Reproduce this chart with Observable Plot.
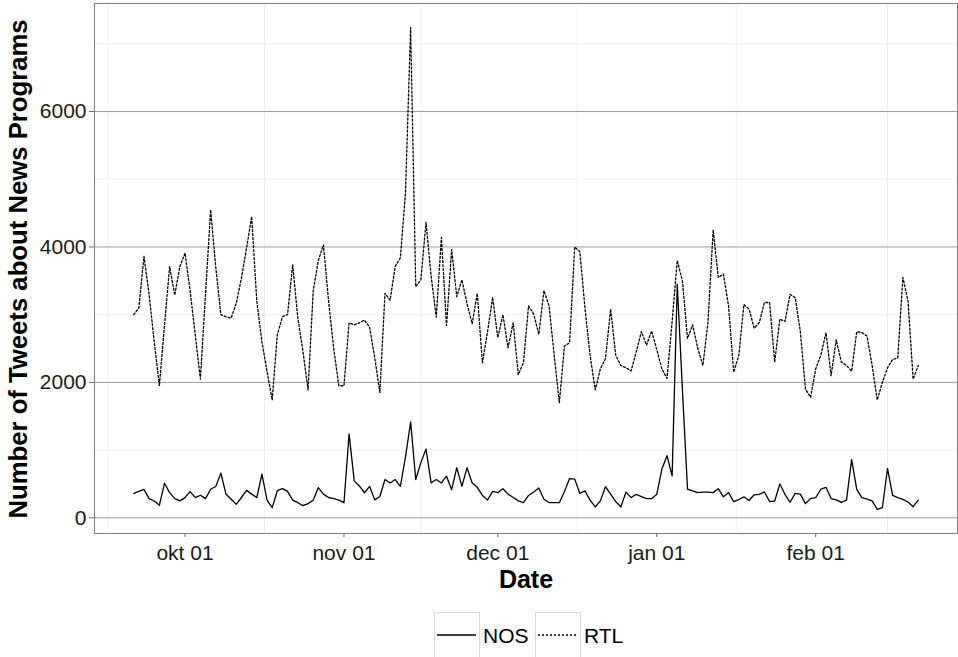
<!DOCTYPE html>
<html><head><meta charset="utf-8">
<script src="https://cdn.jsdelivr.net/npm/d3@7"></script>
<script src="https://cdn.jsdelivr.net/npm/@observablehq/plot@0.6"></script>
<style>
body{margin:0;background:#fff;font-family:"Liberation Sans",Arial,sans-serif;}
svg{display:block;}
</style></head><body><div id="chart"></div>
<script>
// first day of the daily series (one value per day)
const startDate = "2013-09-21";
const seriesNames = ["NOS", "RTL"];
const nos = [
  362,390,420,283,248,184,511,372,283,250,
  298,387,298,333,283,422,462,660,347,273,
  199,300,405,350,298,645,260,149,400,430,
  390,260,223,180,210,260,447,350,300,283,
  260,223,1240,546,470,370,465,265,315,565,
  515,565,465,900,1415,565,815,1015,515,565,
  515,615,415,740,465,740,515,450,330,263,
  390,372,430,350,300,250,225,330,382,440,
  273,225,223,223,390,580,571,360,397,260,
  160,250,460,350,240,160,380,298,347,313,
  283,283,347,720,918,620,3450,1900,422,397,
  372,380,380,372,430,310,372,240,270,310,
  255,340,347,382,240,248,500,347,230,360,
  350,210,283,298,422,450,285,265,228,260,
  860,420,298,275,250,124,149,730,330,298,
  273,233,164,260
];
const rtl = [
  3000,3100,3860,3300,2600,1950,2840,3710,3290,3710,
  3910,3350,2700,2050,3300,4550,3700,3000,2970,2950,
  3170,3540,3980,4450,3200,2600,2160,1740,2700,2970,
  3000,3740,2950,2460,1890,3350,3800,4030,3200,2500,
  1950,1950,2880,2850,2880,2920,2815,2365,1850,3315,
  3215,3715,3840,4800,7240,3415,3515,4365,3565,2965,
  4140,2840,3965,3265,3515,3165,2865,3315,2290,2750,
  3255,2660,3000,2510,2880,2115,2290,3130,3010,2710,
  3355,3130,2400,1700,2535,2585,4000,3930,3100,2400,
  1890,2200,2350,3080,2400,2250,2215,2170,2450,2750,
  2550,2760,2485,2200,2060,2900,3800,3500,2650,2850,
  2500,2250,2900,4250,3550,3600,3130,2150,2400,3150,
  3080,2800,2885,3180,3180,2300,2935,2900,3300,3250,
  2750,1900,1780,2200,2400,2735,2100,2630,2300,2250,
  2165,2750,2735,2685,2250,1740,2000,2215,2340,2360,
  3550,3200,2050,2250
];
const xTickDates = ["2013-10-01","2013-11-01","2013-12-01","2014-01-01","2014-02-01"];
const yTicks = [0, 2000, 4000, 6000];
const yMinor = [1000, 3000, 5000, 7000];
const monthsNL = ["jan","feb","mrt","apr","mei","jun","jul","aug","sep","okt","nov","dec"];
const xTitle = "Date";
const yTitle = "Number of Tweets about News Programs";

const t0 = new Date(startDate);
const dates = nos.map((_, i) => d3.utcDay.offset(t0, i));
const rows = [];
nos.forEach((v, i) => rows.push({date: dates[i], value: v, series: seriesNames[0]}));
rtl.forEach((v, i) => rows.push({date: dates[i], value: v, series: seriesNames[1]}));

// ggplot-style 5% expansion
const span = dates[dates.length - 1] - dates[0];
const xDomain = [new Date(+dates[0] - span * 0.05), new Date(+dates[dates.length - 1] + span * 0.05)];
const allV = nos.concat(rtl);
const vmin = d3.min(allV), vmax = d3.max(allV);
const yDomain = [vmin - (vmax - vmin) * 0.05, vmax + (vmax - vmin) * 0.05];

// minor vertical grid: midpoints between month breaks
const monthBreaks = d3.utcMonths(new Date("2013-09-01"), new Date("2014-03-02"));
const xMinor = d3.pairs(monthBreaks).map(([a, b]) => new Date((+a + +b) / 2));

const fmt = d => `${monthsNL[d.getUTCMonth()]} ${String(d.getUTCDate()).padStart(2, "0")}`;

const W = 958, H = 600, mL = 94, mR = 1, mT = 3, mB = 67;
const chart = Plot.plot({
  width: W, height: H,
  marginLeft: mL, marginRight: mR, marginTop: mT, marginBottom: mB,
  style: {fontFamily: "'Liberation Sans', Arial, sans-serif", background: "#fff", overflow: "visible"},
  x: {type: "utc", domain: xDomain},
  y: {domain: yDomain},
  marks: [
    Plot.ruleY(yMinor, {stroke: "#f0f0f0", strokeWidth: 1}),
    Plot.ruleX(xMinor, {stroke: "#f0f0f0", strokeWidth: 1}),
    Plot.ruleY(yTicks, {stroke: "#9a9a9a", strokeWidth: 1}),
    Plot.line(rows.filter(d => d.series === "NOS"), {x: "date", y: "value", stroke: "#000", strokeWidth: 1.3}),
    Plot.line(rows.filter(d => d.series === "RTL"), {x: "date", y: "value", stroke: "#000", strokeWidth: 1.3, strokeDasharray: "2,2"}),
    Plot.frame({stroke: "#808080"}),
    Plot.axisY(yTicks, {tickSize: 5, tickPadding: 3, stroke: "#666", fill: "#1a1a1a", fontSize: 21, tickFormat: d => String(d), label: null}),
    Plot.axisX(xTickDates.map(s => new Date(s)), {tickSize: 4, tickPadding: 8, stroke: "#666", fill: "#1a1a1a", fontSize: 21, tickFormat: fmt, label: null}),
    Plot.text([xTitle], {frameAnchor: "bottom", dy: 46, lineAnchor: "middle", fontWeight: "bold", fontSize: 25, fill: "#000"})
  ]
});
document.getElementById("chart").appendChild(chart);

// rotated y-axis title
const svgSel = d3.select(chart.tagName.toLowerCase() === "svg" ? chart : chart.querySelector("svg"));
svgSel.append("text")
  .attr("transform", `translate(18,${(mT + (H - mB)) / 2 + 1}) rotate(-90)`)
  .attr("text-anchor", "middle")
  .attr("dominant-baseline", "central")
  .attr("font-family", "'Liberation Sans', Arial, sans-serif")
  .attr("font-weight", "bold")
  .attr("font-size", 25.7)
  .attr("fill", "#000")
  .text(yTitle);

// legend below the plot
const leg = d3.select("#chart").append("svg").attr("width", W).attr("height", 57)
  .style("font-family", "'Liberation Sans', Arial, sans-serif");
const keyW = 45;
const items = [{name: "NOS", dash: null}, {name: "RTL", dash: "2,2"}];
let x0 = 434;
items.forEach(it => {
  const g = leg.append("g").attr("transform", `translate(${x0},12)`);
  g.append("rect").attr("x", 0.5).attr("y", 0.5).attr("width", keyW).attr("height", 45)
    .attr("fill", "#fff").attr("stroke", "#d9d9d9");
  g.append("line").attr("x1", 3).attr("x2", keyW - 3).attr("y1", 23).attr("y2", 23)
    .attr("stroke", "#000").attr("stroke-width", 1.3).attr("stroke-dasharray", it.dash);
  g.append("text").attr("x", keyW + 4).attr("y", 23).attr("dominant-baseline", "central")
    .attr("font-size", 21).attr("fill", "#000").text(it.name);
  x0 += 101;
});
</script>
</body></html>
